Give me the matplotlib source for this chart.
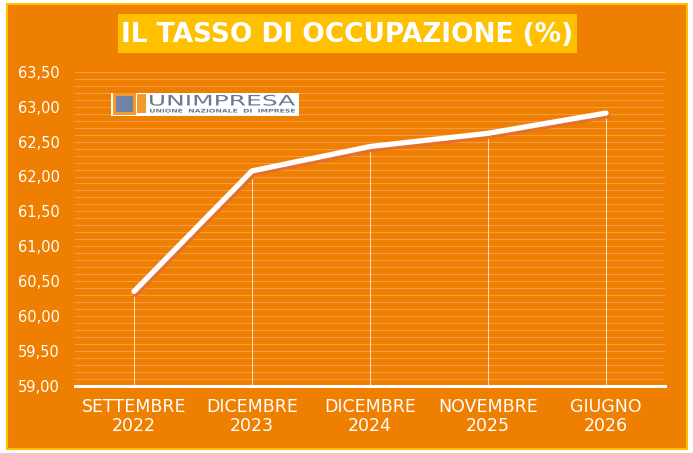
import matplotlib.pyplot as plt
import matplotlib.patheffects as pe
from matplotlib.patches import Rectangle, PathPatch
from matplotlib.textpath import TextPath
from matplotlib.font_manager import FontProperties
from matplotlib.transforms import Affine2D, IdentityTransform
from matplotlib.ticker import MultipleLocator, FuncFormatter

periods = ["SETTEMBRE\n2022", "DICEMBRE\n2023", "DICEMBRE\n2024", "NOVEMBRE\n2025", "GIUGNO\n2026"]
rate = [60.35, 62.08, 62.43, 62.62, 62.91]
title = "IL TASSO DI OCCUPAZIONE (%)"

W, H = 693, 453
ORANGE = "#EF7F00"
GOLD = "#FFC000"
SHADOW = "#E4702C"
GRID = "#F39C45"
LOGO_BLUE = "#6B7890"


def fig_box(x0, y0, x1, y1):
    # pixel box (top-left origin) -> figure fraction rect
    return (x0 / W, 1 - y1 / H), (x1 - x0) / W, (y1 - y0) / H


def fit_text(fig, s, x0, x1, base, cap, color, weight="normal", z=9):
    # draw s stretched so its ink fills x0..x1 with cap height cap, baseline at base (pixels)
    tp = TextPath((0, 0), s, size=100, prop=FontProperties(family="DejaVu Sans", weight=weight))
    bb = tp.get_extents()
    tr = (Affine2D().translate(-bb.x0, 0).scale((x1 - x0) / bb.width, cap / 72.9)
          .translate(x0, H - base))
    fig.patches.append(PathPatch(tr.transform_path(tp), transform=IdentityTransform(),
                                 facecolor=color, edgecolor="none", zorder=z))


fig = plt.figure(figsize=(6.93, 4.53), dpi=100)
fig.patch.set_facecolor("white")
# orange card with gold border, behind everything
xy, w, h = fig_box(7, 4, 687, 449)
fig.patches.append(Rectangle(xy, w, h, transform=fig.transFigure,
                             facecolor=ORANGE, edgecolor=GOLD, linewidth=1.5, zorder=-10))

ax = fig.add_axes([75 / W, 1 - 385.5 / H, 590 / W, 313.5 / H])
ax.set_facecolor("none")
x = list(range(len(periods)))
ax.set_xlim(-0.5, len(periods) - 0.5)
ax.set_ylim(59, 63.5)
ax.yaxis.set_major_locator(MultipleLocator(0.5))
ax.yaxis.set_minor_locator(MultipleLocator(0.1))
ax.yaxis.set_major_formatter(FuncFormatter(lambda v, p: f"{v:.2f}".replace(".", ",")))
ax.grid(axis="y", which="both", color=GRID, linewidth=0.8)
ax.set_axisbelow(True)
for s in ["top", "right", "left"]:
    ax.spines[s].set_visible(False)
ax.spines["bottom"].set_color("white")
ax.spines["bottom"].set_linewidth(2.2)
ax.spines["bottom"].set_zorder(5)
ax.tick_params(which="both", length=0)
ax.tick_params(axis="y", colors="white", labelsize=10.5, pad=11)
ax.tick_params(axis="x", colors="white", labelsize=12.5, pad=9)
ax.set_xticks(x)
ax.set_xticklabels(periods, linespacing=1.1)

# drop lines
ax.vlines(x, 59, rate, color="white", linewidth=0.6, alpha=0.9, zorder=2)
ax.plot(x, rate, color="white", linewidth=3.8, solid_capstyle="round", solid_joinstyle="miter",
        zorder=4,
        path_effects=[pe.SimpleLineShadow(offset=(1.2, -2.0), shadow_color=SHADOW, alpha=1.0),
                      pe.Normal()])

# title banner
xy, w, h = fig_box(118, 14, 577, 53)
fig.patches.append(Rectangle(xy, w, h, transform=fig.transFigure,
                             facecolor=GOLD, edgecolor="none", zorder=1))
fig.text(347 / W, 1 - 34.5 / H, title, ha="center", va="center", color="white",
         fontsize=19, fontweight="bold", family="DejaVu Sans", zorder=2)

# logo
xy, w, h = fig_box(111, 93, 299, 116)
fig.patches.append(Rectangle(xy, w, h, transform=fig.transFigure,
                             facecolor="white", edgecolor="none", zorder=6))
xy, w, h = fig_box(114, 94, 134, 113)
fig.patches.append(Rectangle(xy, w, h, transform=fig.transFigure,
                             facecolor="#7282A6", edgecolor="#F39A2E", linewidth=2.2, zorder=7))
xy, w, h = fig_box(137, 94, 146, 113)
fig.patches.append(Rectangle(xy, w, h, transform=fig.transFigure,
                             facecolor="#F39A2E", edgecolor="none", zorder=7))
fit_text(fig, "UNIMPRESA", 150, 295, 105.5, 10.5, LOGO_BLUE)
fit_text(fig, "UNIONE  NAZIONALE  DI  IMPRESE", 150, 295, 112.5, 3.6, LOGO_BLUE, weight="bold")

fig.savefig("out.png", dpi=100, facecolor=fig.get_facecolor())
